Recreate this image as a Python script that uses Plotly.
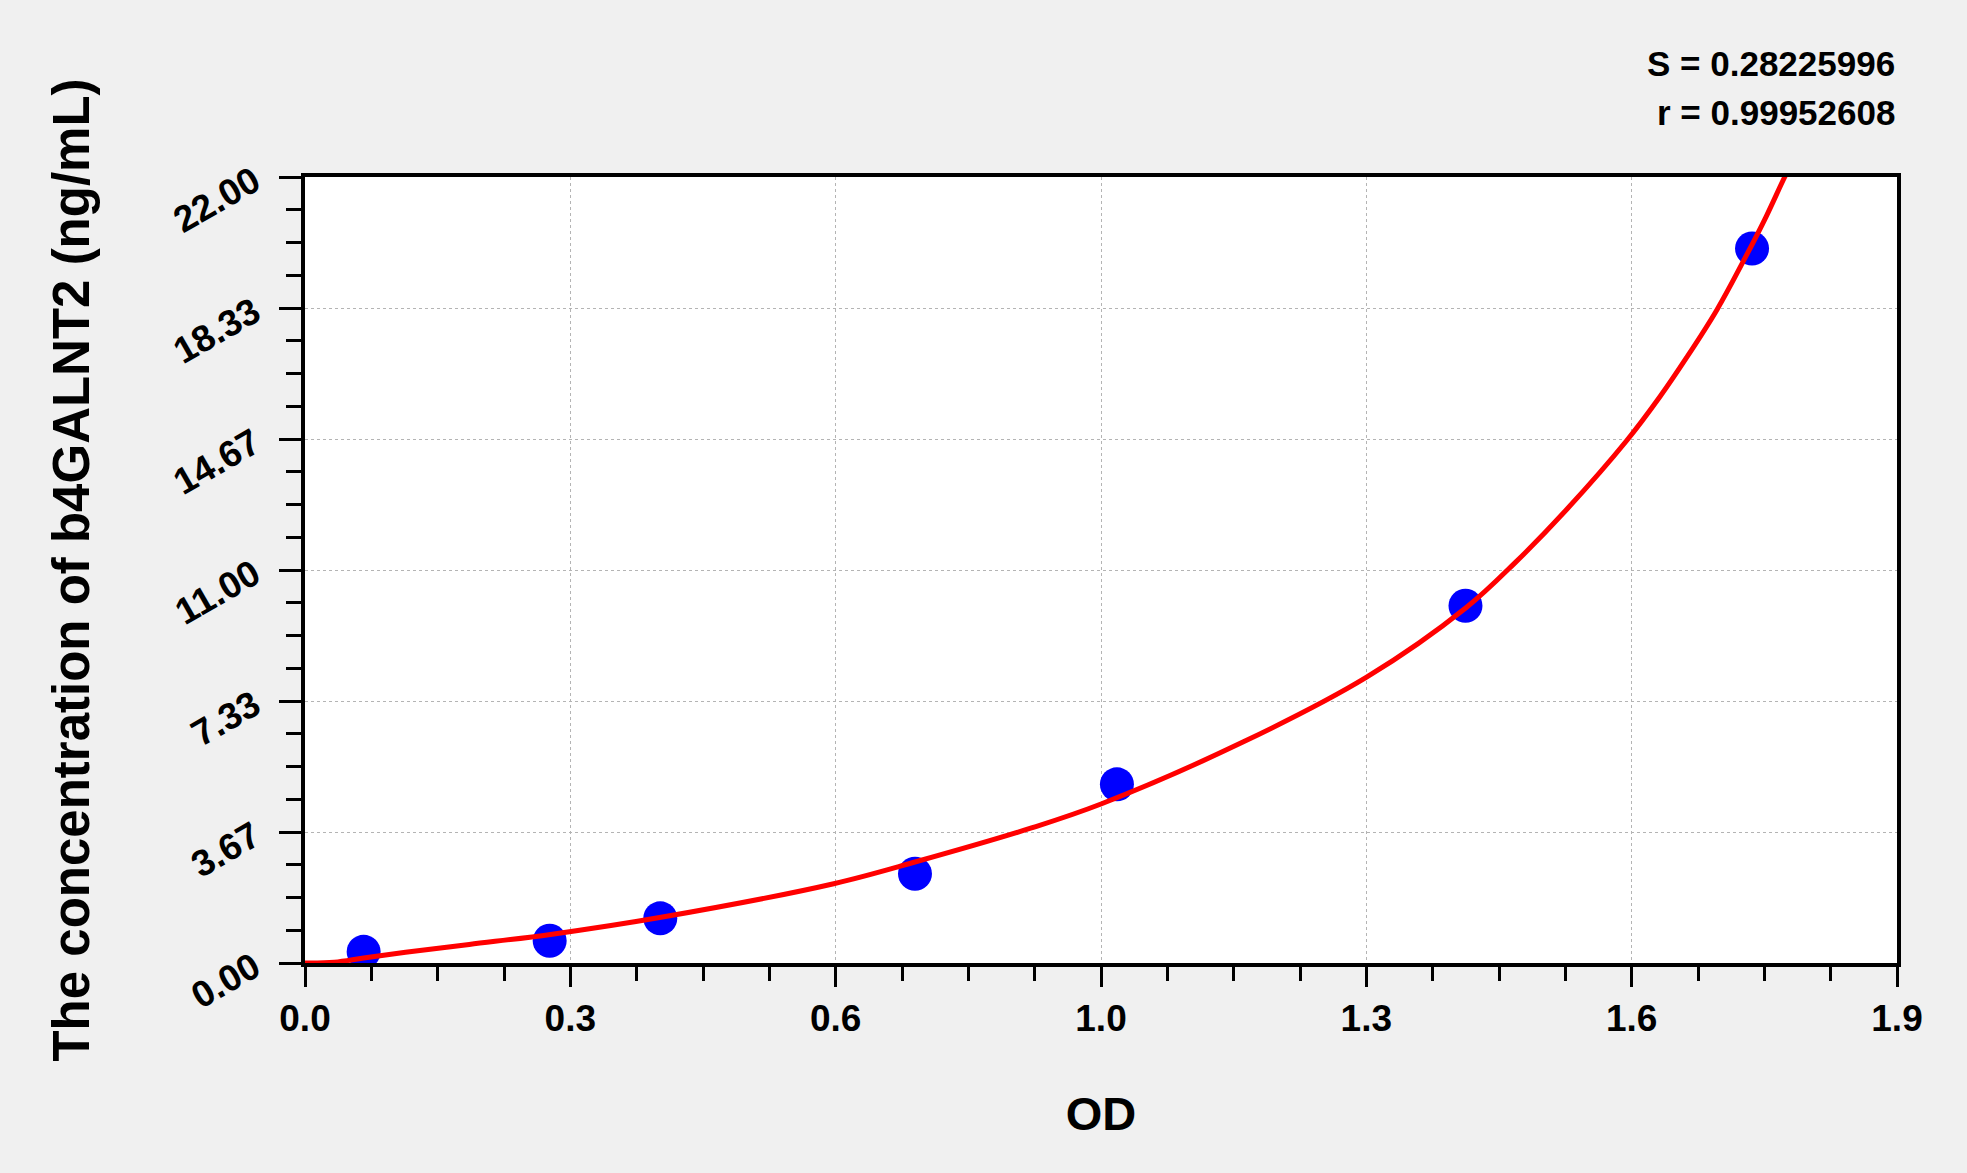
import plotly.graph_objects as go

# standards: measured OD vs known concentration
std_od = [0.070, 0.292, 0.424, 0.728, 0.969, 1.385, 1.727]
std_conc = [0.3125, 0.625, 1.25, 2.5, 5.0, 10.0, 20.0]

# fitted curve, points
fit_od = [0.0, 0.035, 0.070, 0.120, 0.196, 0.293, 0.425, 0.631, 0.730, 0.867,
          0.950, 1.120, 1.267, 1.386, 1.444, 1.506, 1.577, 1.617, 1.649, 1.685,
          1.719, 1.744, 1.766, 1.776]
fit_conc = [0.0, 0.02, 0.14, 0.30, 0.52, 0.80, 1.28, 2.22, 2.84, 3.78,
            4.45, 6.19, 8.00, 9.95, 11.20, 12.70, 14.61, 15.85, 16.95, 18.28,
            19.75, 20.90, 22.00, 22.45]

# axis ticks
x_tickvals = [0.0, 0.31667, 0.63333, 0.95, 1.26667, 1.58333, 1.9]
x_ticktext = ["0.0", "0.3", "0.6", "1.0", "1.3", "1.6", "1.9"]
y_tickvals = [0.0, 3.66667, 7.33333, 11.0, 14.66667, 18.33333, 22.0]
y_ticktext = ["0.00", "3.67", "7.33", "11.00", "14.67", "18.33", "22.00"]

fit_stats = ["S = 0.28225996", "r = 0.99952608"]

FONT = "Arial, Liberation Sans, sans-serif"

fig = go.Figure()

# standard points (under the curve)
fig.add_trace(go.Scatter(
    x=std_od, y=std_conc, mode="markers",
    marker=dict(size=34, color="#0000ff"),
    showlegend=False,
))

# fitted curve
fig.add_trace(go.Scatter(
    x=fit_od, y=fit_conc, mode="lines",
    line=dict(color="#ff0000", width=5, shape="spline", smoothing=1),
    showlegend=False,
))

axis_common = dict(
    showline=True, linecolor="black", linewidth=3.5, mirror=True,
    ticks="outside", tickcolor="black", tickwidth=3,
    showgrid=True, gridcolor="#b4b4b4", gridwidth=1, griddash="dot",
    zeroline=False, tickmode="array",
)

fig.update_xaxes(
    **axis_common,
    range=[0, 1.9], tickvals=x_tickvals, ticktext=x_ticktext, ticklen=20,
    minor=dict(dtick=1.9 / 24, tick0=0, ticks="outside", ticklen=14,
               tickwidth=3, tickcolor="black", showgrid=False),
    tickfont=dict(family=FONT, size=37, color="black", weight="bold"),
    title=dict(text="<b>OD</b>", font=dict(family=FONT, size=47, color="black"),
               standoff=60),
)

fig.update_yaxes(
    **axis_common,
    range=[0, 22], tickvals=y_tickvals, ticktext=y_ticktext, ticklen=22,
    tickangle=-30, ticklabelstandoff=18,
    minor=dict(dtick=22 / 24, tick0=0, ticks="outside", ticklen=15,
               tickwidth=3, tickcolor="black", showgrid=False),
    tickfont=dict(family=FONT, size=37, color="black", weight="bold"),
    title=dict(text="<b>The concentration of b4GALNT2 (ng/mL)</b>",
               font=dict(family=FONT, size=51, color="black"), standoff=62),
)

# S and r values at top right
for i, txt in enumerate(fit_stats):
    fig.add_annotation(
        text="<b>" + txt + "</b>", xref="paper", yref="paper",
        x=1.0, y=1.144 - i * 0.0625, xanchor="right", yanchor="middle",
        showarrow=False, font=dict(family=FONT, size=35, color="black"),
    )

fig.update_layout(
    width=1967, height=1173,
    margin=dict(l=305, r=70, t=177, b=210),
    paper_bgcolor="#f0f0f0",
    plot_bgcolor="white",
)

fig.write_html("out.html", config={"displayModeBar": False},
               post_script="document.body.style.margin='0';")
